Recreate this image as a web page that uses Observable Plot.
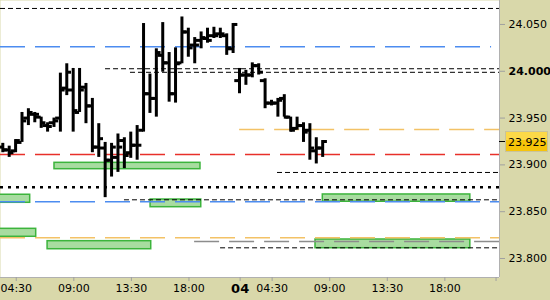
<!DOCTYPE html>
<html><head><meta charset="utf-8">
<script src="https://cdn.jsdelivr.net/npm/d3@7"></script>
<script src="https://cdn.jsdelivr.net/npm/@observablehq/plot@0.6"></script>
<style>
html,body{margin:0;padding:0;background:#d9d8aa;}
#chart svg{display:block;}
</style></head><body><div id="chart"></div>
<script>
// Time axis: trading-session hours counted from the day-3 session open; day 4 session opens at 20.
const barTime = [1.45,1.95,2.45,2.95,3.45,3.95,4.45,4.95,5.45,5.95,6.45,6.95,7.45,7.95,8.45,8.95,9.45,9.95,10.45,10.95,11.45,11.95,12.45,12.95,13.45,13.95,14.45,14.95,15.45,15.95,16.45,16.95,17.45,17.95,18.45,18.95,19.45,
  19.95,20.45,20.95,21.45,21.95,22.45,22.95,23.45,23.95,24.45,24.95,25.45,25.95,26.45];
const barOpen  = [23.919,23.916,23.915,23.924,23.950,23.954,23.951,23.942,23.945,23.950,23.982,23.980,23.956,23.983,23.963,23.919,23.918,23.905,23.908,23.926,23.913,23.921,23.937,23.976,23.971,24.017,24.009,23.976,24.009,24.042,24.028,24.033,24.035,24.038,24.040,24.038,24.024,
  23.990,23.996,23.996,24.006,23.990,23.966,23.966,23.971,23.951,23.939,23.942,23.937,23.915,23.918];
const barHigh  = [23.923,23.920,23.927,23.956,23.960,23.956,23.951,23.945,23.950,23.998,24.008,24.003,24.003,23.987,23.971,23.944,23.924,23.923,23.933,23.929,23.935,23.942,24.051,23.997,24.024,24.052,24.020,24.025,24.058,24.046,24.036,24.042,24.046,24.047,24.046,24.040,24.051,
  24.003,24.001,24.009,24.008,23.992,23.969,23.971,23.975,23.951,23.951,23.945,23.944,23.929,23.926];
const barLow   = [23.913,23.908,23.913,23.924,23.942,23.945,23.939,23.935,23.940,23.935,23.974,23.935,23.956,23.944,23.913,23.908,23.865,23.887,23.892,23.896,23.907,23.905,23.935,23.955,23.951,23.999,23.967,23.966,24.008,24.015,24.008,24.024,24.030,24.035,24.035,24.017,24.019,
  23.976,23.985,23.993,23.996,23.960,23.963,23.951,23.951,23.935,23.937,23.924,23.905,23.901,23.908];
const barClose = [23.916,23.913,23.926,23.947,23.956,23.954,23.945,23.941,23.947,23.980,23.999,23.958,23.980,23.963,23.919,23.928,23.905,23.919,23.919,23.910,23.921,23.921,23.976,23.971,24.020,24.009,23.976,24.008,24.042,24.025,24.028,24.036,24.033,24.038,24.040,24.025,24.050,
  23.996,23.996,24.006,23.999,23.966,23.966,23.969,23.951,23.937,23.942,23.935,23.918,23.918,23.925];

// Horizontal levels (null = runs from / to the chart edge)
const levelPrice = [24.0671,24.0262,24.0027,23.9989,23.9378,23.9111,23.8919,23.8762,23.8627,23.8606,23.8221,23.8182,23.8114];
const levelFrom  = [null,null,9.48,11.43,19.96,null,22.92,null,10.96,null,null,16.44,18.47];
const levelTo    = [null,39.65,null,null,null,null,null,null,null,null,null,null,null];
const levelKind  = ["black","blue","black","black","orange","red","black","dotted","black","blue","orange","grey","black"];

// Green zones
const zoneFrom   = [5.49,1.0,13.0,1.0,4.95,26.46,25.89];
const zoneTo     = [16.9,3.59,16.96,4.06,13.05,37.99,37.99];
const zoneTop    = [23.9022,23.8681,23.8630,23.8317,23.8185,23.8684,23.8203];
const zoneBottom = [23.8954,23.8595,23.8548,23.8232,23.8099,23.8606,23.8110];

// Axes
const xTickTimes  = [2.5,7,11.5,16,20,22.5,27,31.5,36,40];
const xTickLabels = ["04:30","09:00","13:30","18:00","04","04:30","09:00","13:30","18:00",""];
const yTicks = [23.80,23.85,23.90,23.95,24.00,24.05];
const lastPrice = 23.925;

const xDomain = [1.27, 40.27];
const yDomain = [23.7797, 24.0756];

const kindStyle = {
  black:  {stroke:"#000000", strokeDasharray:"5,3", strokeWidth:1},
  blue:   {stroke:"#4c8cf0", strokeDasharray:"25,10", strokeWidth:1.5},
  orange: {stroke:"#f3c266", strokeDasharray:"25,10", strokeWidth:1.5},
  red:    {stroke:"#e8302a", strokeDasharray:"25,10", strokeWidth:1.5},
  grey:   {stroke:"#8c8c8c", strokeDasharray:"25,10", strokeWidth:1.5},
  dotted: {stroke:"#000000", strokeDasharray:"3,5", strokeWidth:2.5}
};

const bars = barTime.map((t,i)=>({t, o:barOpen[i], h:barHigh[i], l:barLow[i], c:barClose[i]}));
const levels = levelPrice.map((p,i)=>({p, from: levelFrom[i] ?? xDomain[0], to: levelTo[i] ?? xDomain[1], kind: levelKind[i]}));
const zones = zoneFrom.map((f,i)=>({x1:f, x2:zoneTo[i], y1:zoneBottom[i], y2:zoneTop[i]}));

const levelMarks = Object.keys(kindStyle).map(k =>
  Plot.ruleY(levels.filter(d=>d.kind===k), {y:"p", x1:"from", x2:"to", ...kindStyle[k]}));

const half = 0.37;
const chart = Plot.plot({
  width: 550, height: 300,
  marginTop: 0, marginLeft: 0, marginRight: 51, marginBottom: 23,
  x: {domain: xDomain},
  y: {domain: yDomain},
  style: {background:"#d9d8aa", fontFamily:"DejaVu Sans", fontSize:"11px", color:"#000"},
  marks: [
    Plot.frame({fill:"white", stroke:null}),
    Plot.rect(zones, {x1:"x1", x2:"x2", y1:"y1", y2:"y2", fill:"#a8dca0", stroke:"#3cb43c", strokeWidth:1.5, clip:true}),
    ...levelMarks,
    Plot.ruleX(bars, {x:"t", y1:"l", y2:"h", stroke:"black", strokeWidth:3}),
    Plot.ruleY(bars, {y:"o", x1:d=>d.t-half, x2:"t", stroke:"black", strokeWidth:3}),
    Plot.ruleY(bars, {y:"c", x1:"t", x2:d=>d.t+half, stroke:"black", strokeWidth:3}),
    Plot.ruleX([xDomain[1]], {stroke:"#b0b0b0"}),
    Plot.ruleY([yDomain[0]], {stroke:"#b0b0b0"}),
    Plot.axisY({anchor:"right", ticks:yTicks, tickSize:5, tickPadding:4, stroke:"#a0a0a0", fill:"#000",
      tickFormat: d => Math.abs(d-24) < 1e-9 ? "" : d.toFixed(3), label:null}),
    Plot.text([24.0], {y:d=>d, text:d=>d.toFixed(3), frameAnchor:"right", dx:9, textAnchor:"start", fontWeight:"bold", fill:"#000"}),
    Plot.axisX({anchor:"bottom", ticks:xTickTimes, tickSize:4, tickPadding:3, stroke:"#a0a0a0", fill:"#000",
      tickFormat: d => { const i = xTickTimes.indexOf(d); return xTickLabels[i] === "04" ? "" : xTickLabels[i]; }, label:null}),
    Plot.axisX({anchor:"bottom", ticks:[20], tickSize:0, tickPadding:6, fill:"#000", fontWeight:"bold", fontSize:13,
      tickFormat: d => xTickLabels[xTickTimes.indexOf(d)], label:null})
  ]
});

// current price marker, positioned through the chart's own y scale
const svg = d3.select(chart);
const yp = Math.round(chart.scale("y").apply(lastPrice));
const tag = svg.append("g");
tag.append("line").attr("x1",499).attr("x2",505).attr("y1",yp+0.5).attr("y2",yp+0.5).attr("stroke","#000");
tag.append("rect").attr("x",505.5).attr("y",yp-9.5).attr("width",42).attr("height",20)
  .attr("fill","#f6c40a").attr("stroke","#c9c39a");
tag.append("rect").attr("x",506).attr("y",yp-9).attr("width",41).attr("height",8)
  .attr("fill","#fcd948");
tag.append("text").attr("x",508).attr("y",yp+1).attr("dy","0.35em").attr("text-anchor","start")
  .attr("font-family","DejaVu Sans").attr("font-size",11).attr("fill","#000").text(lastPrice.toFixed(3));

document.getElementById("chart").appendChild(chart);
</script>
</body></html>
